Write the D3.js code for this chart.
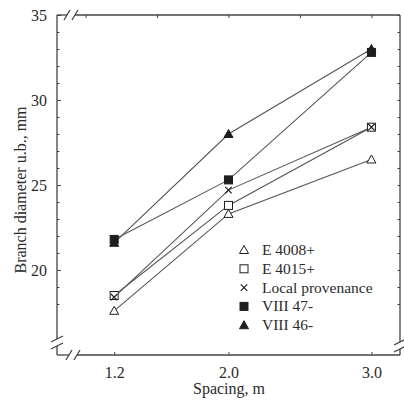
<!DOCTYPE html>
<html><head><meta charset="utf-8">
<script src="https://cdn.jsdelivr.net/npm/d3@7"></script>
<style>body{margin:0;background:#fff}svg{display:block}text{font-family:"Liberation Serif","Times New Roman",serif;fill:#2a2a2a}</style>
</head><body>
<script>
const spacings = [1.2, 2.0, 3.0];
const seriesNames = ["E 4008+", "E 4015+", "Local provenance", "VIII 47-", "VIII 46-"];
const symbolsKind = ["triOpen", "sqOpen", "cross", "sqFilled", "triFilled"];
const e4008 = [17.6, 23.3, 26.5];
const e4015 = [18.5, 23.8, 28.4];
const localProv = [18.4, 24.7, 28.4];
const viii47 = [21.8, 25.3, 32.8];
const viii46 = [21.6, 28.0, 33.0];
const xTickLabels = ["1.2", "2.0", "3.0"];
const yTickValues = [20, 25, 30, 35];

const seriesValues = [e4008, e4015, localProv, viii47, viii46];
const W = 404, H = 401;
const L = 57, R = 400, T = 15, B = 355;
const svg = d3.select("body").append("svg").attr("width", W).attr("height", H);
const x = d3.scaleLinear().domain([0.8, 3.2]).range([L, R]);
const y = d3.scaleLinear().domain([15, 35]).range([B, T]);
const axisCol = "#444";

// ticks
const gl = svg.append("g").attr("transform", `translate(${L},0)`)
  .call(d3.axisLeft(y).tickValues(yTickValues).tickSize(-4).tickPadding(10).tickFormat(d3.format("d")));
gl.select(".domain").remove();
gl.selectAll("text").attr("font-size", 16).style("font-family", "Liberation Serif").attr("fill", "#2a2a2a");
gl.selectAll("line").attr("stroke", axisCol);
const glm = svg.append("g").attr("transform", `translate(${L},0)`)
  .call(d3.axisLeft(y).tickValues(d3.range(18, 35).filter(v => v % 5 !== 0)).tickSize(-2.5).tickFormat(""));
glm.select(".domain").remove(); glm.selectAll("line").attr("stroke", axisCol);

const gr = svg.append("g").attr("transform", `translate(${R},0)`)
  .call(d3.axisRight(y).tickValues(d3.range(18, 36)).tickSize(-2.5).tickFormat(""));
gr.select(".domain").remove(); gr.selectAll("line").attr("stroke", axisCol);

const gb = svg.append("g").attr("transform", `translate(0,${B})`)
  .call(d3.axisBottom(x).tickValues(spacings).tickSize(-3).tickPadding(12).tickFormat((d, i) => xTickLabels[i]));
gb.select(".domain").remove();
gb.selectAll("text").attr("font-size", 16).style("font-family", "Liberation Serif").attr("fill", "#2a2a2a");
gb.selectAll("line").attr("stroke", axisCol);

const gt = svg.append("g").attr("transform", `translate(0,${T})`)
  .call(d3.axisTop(x).tickValues([1.0, 1.5, 2.0, 2.5, 3.0]).tickSize(-3).tickFormat(""));
gt.select(".domain").remove(); gt.selectAll("line").attr("stroke", axisCol);

// frame with breaks
const fr = svg.append("g").attr("stroke", axisCol).attr("stroke-width", 1.3).attr("fill", "none");
const seg = (x1, y1, x2, y2) => fr.append("line").attr("x1", x1).attr("y1", y1).attr("x2", x2).attr("y2", y2);
// top
seg(L, T, 67, T); seg(75, T, R, T);
seg(64, T + 5, 70, T - 5); seg(72, T + 5, 78, T - 5);
// bottom
seg(L, B, 69, B); seg(77, B, R, B);
seg(66, B + 5, 72, B - 5); seg(74, B + 5, 80, B - 5);
// left
seg(L, T, L, 339); seg(L, 346, L, B);
seg(L - 6, 342, L + 6, 336); seg(L - 6, 349, L + 6, 343);
// right
seg(R, T, R, 342); seg(R, 349, R, B);
seg(R - 6, 345, R + 6, 339); seg(R - 6, 352, R + 6, 346);

// lines
const line = d3.line().x((d, i) => x(spacings[i])).y(d => y(d));
seriesValues.forEach(vals => {
  svg.append("path").attr("d", line(vals)).attr("fill", "none").attr("stroke", "#555").attr("stroke-width", 1.1);
});

function marker(g, kind, cx, cy) {
  const dark = "#1e1e1e";
  if (kind === "triOpen" || kind === "triFilled") {
    g.append("path").attr("d", `M${cx},${cy - 4.5}L${cx + 4.5},${cy + 3.5}L${cx - 4.5},${cy + 3.5}Z`)
      .attr("fill", kind === "triFilled" ? dark : "#fff").attr("stroke", dark).attr("stroke-width", 1);
  } else if (kind === "sqOpen" || kind === "sqFilled") {
    g.append("rect").attr("x", cx - 4).attr("y", cy - 4).attr("width", 8).attr("height", 8)
      .attr("fill", kind === "sqFilled" ? dark : "#fff").attr("stroke", dark).attr("stroke-width", 1);
  } else {
    g.append("path").attr("d", `M${cx - 3.2},${cy - 3.2}L${cx + 3.2},${cy + 3.2}M${cx - 3.2},${cy + 3.2}L${cx + 3.2},${cy - 3.2}`)
      .attr("stroke", dark).attr("stroke-width", 1.2);
  }
}
const mg = svg.append("g");
[1, 0, 3, 4, 2].forEach(si => {
  seriesValues[si].forEach((v, i) => marker(mg, symbolsKind[si], x(spacings[i]), y(v)));
});

// legend
const lg = svg.append("g");
seriesNames.forEach((n, i) => {
  const cy = 250 + i * 18.8;
  marker(lg, symbolsKind[i], 244, cy);
  lg.append("text").attr("x", 262).attr("y", cy + 5).attr("font-size", 15.5).text(n);
});

// axis titles
svg.append("text").attr("x", 229).attr("y", 394).attr("text-anchor", "middle").attr("font-size", 16).text("Spacing, m");
svg.append("text").attr("transform", "translate(26,190) rotate(-90)").attr("text-anchor", "middle").attr("font-size", 16).text("Branch diameter u.b., mm");
</script>
</body></html>
